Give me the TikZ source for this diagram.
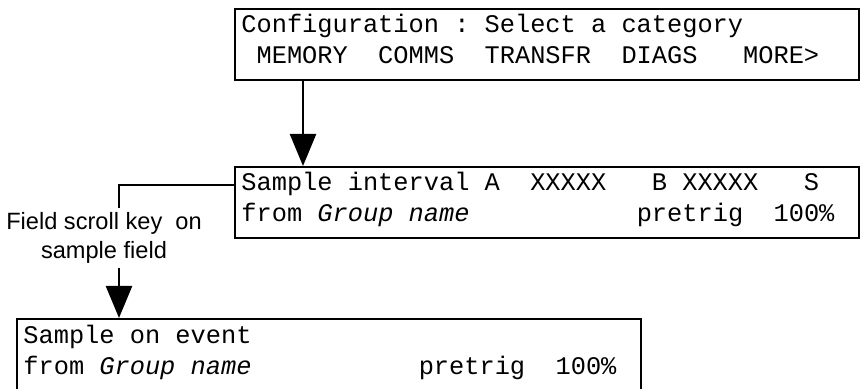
\documentclass[tikz,border=0pt]{standalone}
\usepackage{fontspec}
\usepackage{tikz}
\usetikzlibrary{arrows.meta,positioning}
\newfontfamily\scrfont{Liberation Mono}
\newfontfamily\notefont{Liberation Sans}
\frenchspacing
\begin{document}
\begin{tikzpicture}[x=0.5pt,y=-0.5pt,
		screen/.style={draw, line width=1.2pt, minimum width=312pt, minimum height=35.5pt, inner sep=0pt, anchor=north west},
		scrline/.style={anchor=base west, inner sep=0pt, font=\fontsize{12.67pt}{15pt}\scrfont},
		note/.style={align=center, inner sep=2pt, font=\fontsize{11.8pt}{14.5pt}\notefont},
		wire/.style={line width=1.2pt},
		flow/.style={wire, -{Triangle[length=16pt,width=13pt]}}]
	\useasboundingbox (0,0) rectangle (860,389);
	\node[screen] (config) at (234,8) {};
	\node[scrline] (config1) at ([shift={(7,25)}]config.north west) {Configuration : Select a category};
	\node[scrline] (config2) at ([shift={(7,56)}]config.north west) {~MEMORY~~COMMS~~TRANSFR~~DIAGS~~~MORE>};

	\node[screen] (interval) at (234,166) {};
	\node[scrline] (interval1) at ([shift={(7,25)}]interval.north west) {Sample interval A~~XXXXX~~~B XXXXX~~~S};
	\node[scrline] (interval2) at ([shift={(7,56)}]interval.north west) {from \textit{Group name}~~~~~~~~~~~pretrig~~100\%};

	\node[screen] (event) at (16,318) {};
	\node[scrline] (event1) at ([shift={(7,25)}]event.north west) {Sample on event};
	\node[scrline] (event2) at ([shift={(7,56)}]event.north west) {from \textit{Group name}~~~~~~~~~~~pretrig~~100\%};

	\node[note, anchor=north] (scrollkey) at (104,208) {Field scroll key~ on\\sample field};

	\coordinate (pick) at (303,0);
	\coordinate (bend) at (119,185);
	\draw[flow] (config.south -| pick) -- (interval.north -| pick);
	\draw[wire] (interval.west |- bend) -- (bend) -- (scrollkey.north -| bend);
	\draw[flow] (scrollkey.south -| bend) -- (event.north -| bend);
\end{tikzpicture}
\end{document}
